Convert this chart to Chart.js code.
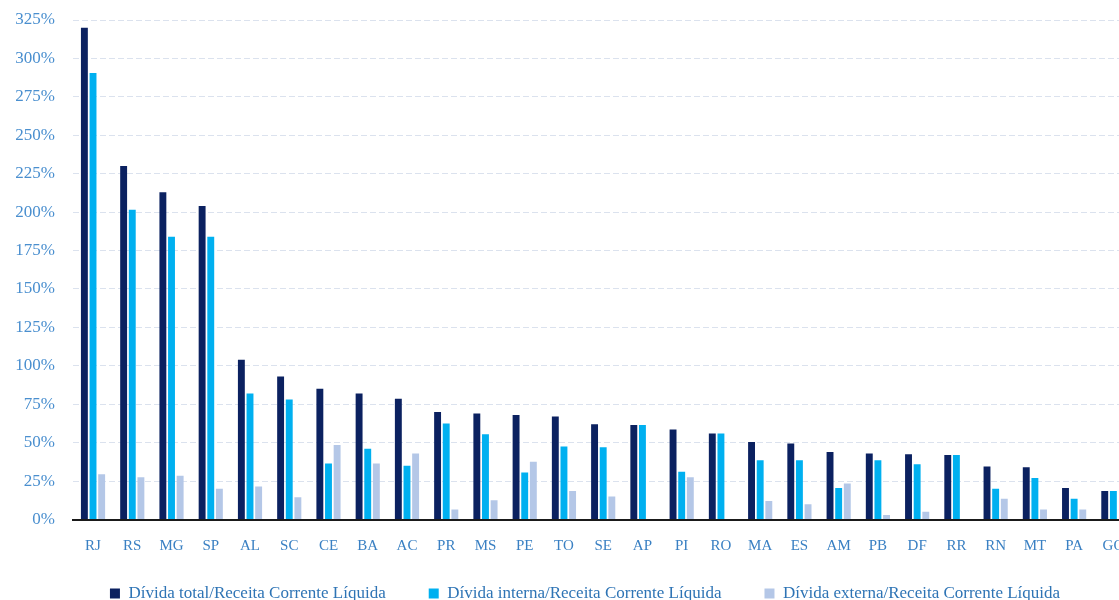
<!DOCTYPE html>
<html>
<head>
<meta charset="utf-8">
<script src="https://cdn.jsdelivr.net/npm/chart.js@4/dist/chart.umd.min.js"></script>
<style>
  html, body { margin: 0; padding: 0; background: #ffffff; overflow: hidden; }
  #wrap { width: 1119px; height: 600px; overflow: hidden; position: relative; }
  canvas { display: block; }
</style>
</head>
<body>
<div id="wrap"><canvas id="c" width="1170" height="600" style="width:1170px;height:600px"></canvas></div>
<script>
const categories = ["RJ","RS","MG","SP","AL","SC","CE","BA","AC","PR","MS","PE","TO","SE","AP","PI","RO","MA","ES","AM","PB","DF","RR","RN","MT","PA","GO"];
const dividaTotal   = [320, 230, 213, 204, 104, 93, 85, 82, 78.5, 70, 69, 68, 67, 62, 61.5, 58.5, 56, 50.5, 49.5, 44, 43, 42.5, 42, 34.5, 34, 20.5, 18.5];
const dividaInterna = [290.5, 201.5, 184, 184, 82, 78, 36.5, 46, 35, 62.5, 55.5, 30.5, 47.5, 47, 61.5, 31, 56, 38.5, 38.5, 20.5, 38.5, 36, 42, 20, 27, 13.5, 18.5];
const dividaExterna = [29.5, 27.5, 28.5, 20, 21.5, 14.5, 48.5, 36.5, 43, 6.5, 12.5, 37.5, 18.5, 15, 0, 27.5, 0, 12, 10, 23.5, 3, 5, 0, 13.5, 6.5, 6.5, 0];
const seriesNames = ["Dívida total/Receita Corrente Líquida", "Dívida interna/Receita Corrente Líquida", "Dívida externa/Receita Corrente Líquida"];
const yMin = 0, yMax = 325, yStep = 25;

const colors = ["#0b2160", "#00b0f0", "#b4c7e7"];
const serif = "'Liberation Serif', 'DejaVu Serif', serif";

new Chart(document.getElementById('c'), {
  type: 'bar',
  data: {
    labels: categories,
    datasets: [
      { label: seriesNames[0], data: dividaTotal, backgroundColor: colors[0] },
      { label: seriesNames[1], data: dividaInterna, backgroundColor: colors[1] },
      { label: seriesNames[2], data: dividaExterna, backgroundColor: colors[2] }
    ]
  },
  options: {
    responsive: false,
    devicePixelRatio: 1,
    animation: false,
    events: [],
    layout: { padding: { top: 20, left: 0, right: 0, bottom: 0 } },
    datasets: { bar: { categoryPercentage: 0.66, barPercentage: 0.8, borderWidth: 0 } },
    scales: {
      x: {
        grid: { display: false, drawTicks: false },
        border: { display: true, color: '#1a1a1a', width: 2 },
        ticks: { color: '#3a80c3', font: { family: serif, size: 15 }, padding: -36, mirror: true, maxRotation: 0, autoSkip: false },
        afterFit: s => { s.height = 22.5; }
      },
      y: {
        min: yMin, max: yMax,
        grid: {
          drawTicks: false,
          color: c => (c.tick && c.tick.value === 0) ? 'rgba(0,0,0,0)' : '#dbe2ee',
          lineWidth: 1
        },
        border: { display: false, dash: [6, 3] },
        ticks: { stepSize: yStep, color: '#4a8fcf', font: { family: serif, size: 17 }, padding: 18.4,
                 callback: v => v + '%' },
        afterFit: s => { s.width = 73.4; s.paddingTop = 0; s.paddingBottom = 0; }
      },
      yPad: {
        position: 'right',
        display: true,
        grid: { display: false, drawTicks: false },
        border: { display: false },
        ticks: { display: false },
        afterFit: s => { s.width = 37; s.paddingTop = 0; s.paddingBottom = 0; }
      }
    },
    plugins: {
      tooltip: { enabled: false },
      legend: {
        position: 'bottom',
        maxHeight: 58,
        labels: {
          boxWidth: 10, boxHeight: 10, padding: 43,
          color: '#2e74b5',
          font: { family: serif, size: 17 }
        }
      }
    }
  }
});
</script>
</body>
</html>
